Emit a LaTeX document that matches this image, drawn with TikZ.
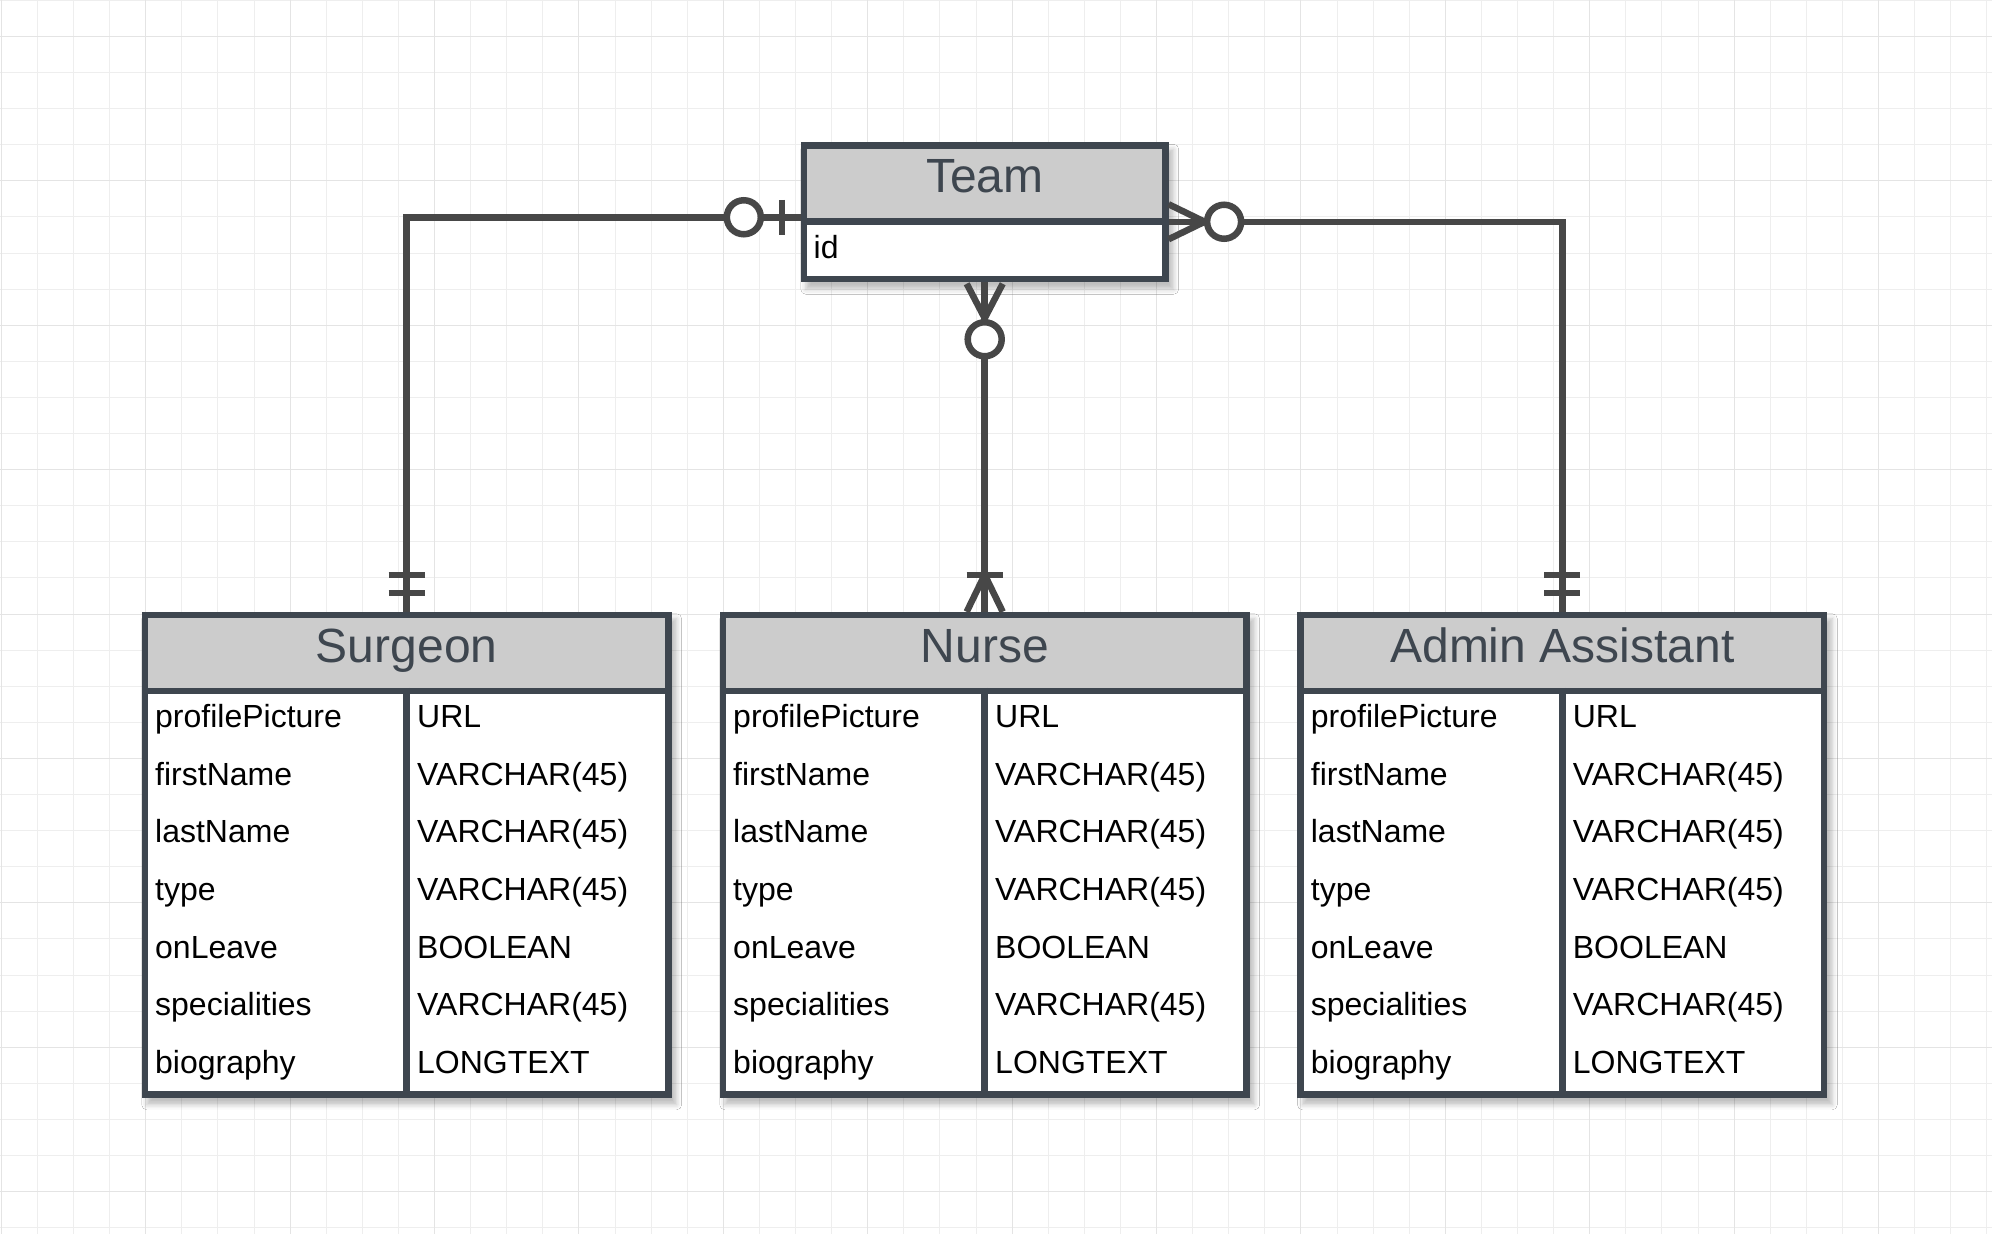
\documentclass[tikz,border=0pt]{standalone}
\usepackage{fontspec}
\setmainfont{Liberation Sans}
\usetikzlibrary{calc,backgrounds,shadows.blur}
\definecolor{frame}{RGB}{62,70,79}
\definecolor{link}{RGB}{71,71,71}
\definecolor{headgray}{RGB}{204,204,204}
\definecolor{gridminor}{RGB}{238,238,238}
\definecolor{gridmajor}{RGB}{228,228,228}
\newcommand{\rowfont}{\fontsize{32}{38}\selectfont}
\newcommand{\titlefont}{\fontsize{48}{56}\selectfont}
\newcommand{\staffcols}{profilePicture/URL, firstName/VARCHAR(45), lastName/VARCHAR(45), type/VARCHAR(45), onLeave/BOOLEAN, specialities/VARCHAR(45), biography/LONGTEXT}

\begin{document}
\begin{tikzpicture}[x=1pt,y=-1pt]
\tikzset{tablehead/.style={draw=frame, line width=6.5pt, fill=headgray, minimum height=76pt, inner sep=0pt}}
\tikzset{tablebody/.style={draw=frame, line width=6.5pt, fill=white, inner sep=0pt}}
\tikzset{title/.style={text=frame, font=\titlefont, anchor=base, inner sep=0pt}}
\tikzset{field/.style={font=\rowfont, anchor=base west, inner sep=0pt}}
\tikzset{divider/.style={draw=frame, line width=6.5pt}}
\tikzset{rel/.style={draw=link, line width=6.5pt}}

\useasboundingbox (0,0) rectangle (1992,1234);

%% Team
\node[tablehead, minimum width=361.3pt] at (984.7,183.5) (team) {};
\node[tablebody, minimum width=361.3pt, minimum height=57.5pt] at (984.7,250.25) (team-body) {};
\node[title] at (984.7,192.5) (team-title) {Team};
\node[field] at (813.5,258) (team-id) {id};

%% Staff tables
\foreach \tbl/\ttl/\sh in {surgeon/Surgeon/0, nurse/Nurse/578, admin/Admin Assistant/1155.65} {
  \begin{scope}[xshift=\sh pt]
    \node[tablehead, minimum width=523.3pt] at (406.7,653) (\tbl) {};
    \node[tablebody, minimum width=523.3pt, minimum height=403.5pt] at (406.7,892.75) (\tbl-body) {};
    \node[title] at (406.7,662) (\tbl-title) {\ttl};
    \draw[divider] (\tbl-body.north) -- (\tbl-body.south);
    \foreach \fname/\ftype [count=\r from 0] in \staffcols {
      \node[field] at (155,727.5+57.64*\r) (\tbl-name-\r) {\fname};
      \node[field] at (417,727.5+57.64*\r) (\tbl-type-\r) {\ftype};
    }
  \end{scope}
}

%% Relations
\coordinate (tl) at ($(team.south west)+(0,-7.5)$);
\coordinate (tr) at ($(team.south east)+(0,-3)$);
\coordinate (tb) at (team-body.south);

% team -- surgeon
\draw[rel] (tl) -| (surgeon.north);
\draw[rel] ($(tl)+(-19,-17.5)$) -- ($(tl)+(-19,17.5)$);
\draw[rel, fill=white] ($(tl)+(-57,0)$) circle[radius=17pt];
\draw[rel] ($(surgeon.north)+(-18,-19)$) -- ++(36,0);
\draw[rel] ($(surgeon.north)+(-18,-37)$) -- ++(36,0);

% team -- nurse
\draw[rel] (tb) -- (nurse.north);
\draw[rel] ($(tb)+(-18,1.5)$) -- ($(tb)+(0,36)$) -- ($(tb)+(18,1.5)$);
\draw[rel, fill=white] ($(tb)+(0,57)$) circle[radius=17pt];
\draw[rel] ($(nurse.north)+(-18,-37)$) -- ++(36,0);
\draw[rel] ($(nurse.north)+(-18,0)$) -- ($(nurse.north)+(0,-37)$) -- ($(nurse.north)+(18,0)$);

% team -- admin
\draw[rel] (tr) -| (admin.north);
\draw[rel] ($(tr)+(0,-17.5)$) -- ($(tr)+(36,0)$) -- ($(tr)+(0,17.5)$);
\draw[rel, fill=white] ($(tr)+(55.5,0)$) circle[radius=17pt];
\draw[rel] ($(admin.north)+(-18,-19)$) -- ++(36,0);
\draw[rel] ($(admin.north)+(-18,-37)$) -- ++(36,0);

\begin{scope}[on background layer]
  \fill[white] (0,0) rectangle (1992,1234);
  \foreach \i in {0,...,55} \draw[gridminor, line width=1pt] (1.3+36.1*\i,0) -- ++(0,1234);
  \foreach \j in {0,...,34} \draw[gridminor, line width=1pt] (0,0.3+36.1*\j) -- ++(1992,0);
  \foreach \i in {0,...,13} \draw[gridmajor, line width=1pt] (1.3+144.4*\i,0) -- ++(0,1234);
  \foreach \j in {0,...,8} \draw[gridmajor, line width=1pt] (0,36.4+144.4*\j) -- ++(1992,0);
  \foreach \t in {team,surgeon,nurse,admin}
    \fill[white, blur shadow={shadow xshift=5pt, shadow yshift=-7pt, shadow blur radius=5pt, shadow opacity=25}]
      (\t.north west) rectangle (\t-body.south east);
\end{scope}

\end{tikzpicture}
\end{document}
